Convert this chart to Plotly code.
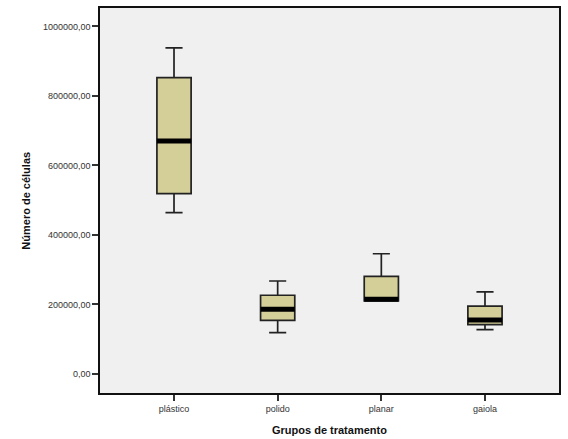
import plotly.graph_objects as go

categories = ["plástico", "polido", "planar", "gaiola"]
lower_whisker = [464000, 119000, 210000, 127500]
q1 = [519000, 154500, 210000, 142000]
median = [670500, 186000, 215000, 155500]
q3 = [852500, 226500, 281000, 195000]
upper_whisker = [938000, 267500, 346000, 236000]

y_tick_vals = [0, 200000, 400000, 600000, 800000, 1000000]
y_tick_text = ["0,00", "200000,00", "400000,00", "600000,00", "800000,00", "1000000,00"]

xs = list(range(len(categories)))
box_w = 0.33

fig = go.Figure()
fig.add_trace(go.Box(
    x=xs, q1=q1, median=median, q3=q3,
    lowerfence=lower_whisker, upperfence=upper_whisker,
    width=box_w, whiskerwidth=0.5,
    fillcolor="#d4cf99",
    line=dict(color="#222222", width=1.7),
    boxpoints=False, showlegend=False, hoverinfo="skip",
))
# thick median lines
for i, m in enumerate(median):
    fig.add_trace(go.Scatter(
        x=[i - box_w / 2, i + box_w / 2], y=[m, m], mode="lines",
        line=dict(color="black", width=5), showlegend=False, hoverinfo="skip",
    ))

font_family = "Liberation Sans, Arial, sans-serif"
fig.update_layout(
    width=568, height=439,
    margin=dict(l=100, r=9, t=8, b=46, autoexpand=False),
    paper_bgcolor="white",
    plot_bgcolor="#f0f0f0",
    font=dict(family=font_family, size=9, color="#333"),
    showlegend=False,
    annotations=[
        dict(text="<b>Número de células</b>", xref="paper", yref="paper",
             x=-0.163, y=0.5, xanchor="center", yanchor="middle", textangle=-90,
             showarrow=False, font=dict(size=11, color="#111")),
        dict(text="<b>Grupos de tratamento</b>", xref="paper", yref="paper",
             x=0.5, y=-0.096, xanchor="center", yanchor="middle",
             showarrow=False, font=dict(size=11, color="#111")),
    ],
)
fig.update_xaxes(
    range=[-0.714, 3.714], automargin=False,
    tickvals=xs, ticktext=categories,
    ticks="outside", ticklen=6, tickcolor="#333", tickwidth=1.5,
    showgrid=False, zeroline=False,
    showline=True, linecolor="#111", linewidth=1.5, mirror=True,
    tickfont=dict(size=9, color="#333"),
)
fig.update_yaxes(
    range=[-54700, 1053000], automargin=False,
    tickvals=y_tick_vals, ticktext=y_tick_text,
    ticks="outside", ticklen=6, tickcolor="#333", tickwidth=1.5,
    showgrid=False, zeroline=False,
    showline=True, linecolor="#111", linewidth=1.5, mirror=True,
    tickfont=dict(size=9, color="#333"),
)

fig.write_html("out.html", config={"displayModeBar": False},
               post_script="document.body.style.margin='0';")
